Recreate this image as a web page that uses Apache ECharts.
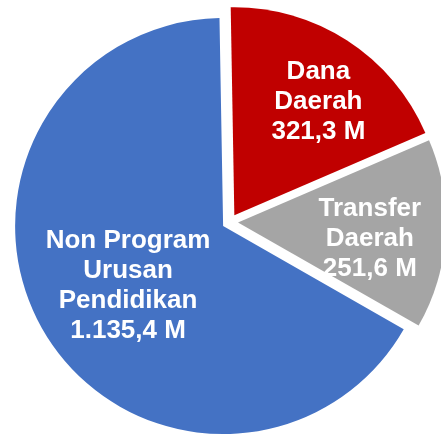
<!DOCTYPE html>
<html>
<head>
<meta charset="utf-8">
<script src="https://cdn.jsdelivr.net/npm/echarts@6/dist/echarts.min.js"></script>
<style>
  html, body { margin: 0; padding: 0; background: #fff; }
  #main { width: 441px; height: 436px; }
</style>
</head>
<body>
<div id="main"></div>
<script>
var names = ['Dana\nDaerah', 'Transfer\nDaerah', 'Non Program\nUrusan\nPendidikan'];
var values = [321.3, 251.6, 1135.4];
var valueLabels = ['321,3 M', '251,6 M', '1.135,4 M'];
var colors = ['#C00000', '#A5A5A5', '#4472C4'];

// label nudges so text sits where the original has it
var labelShift = [[26, -24], [25, 10], [-3, 5]];

var myChart = echarts.init(document.getElementById('main'));

var pieData = values.map(function (v, i) {
    return {
        name: names[i],
        value: v,
        selected: true,
        itemStyle: { color: colors[i] }
    };
});

var option = {
    animation: false,
    series: [{
        type: 'pie',
        center: [230, 222],
        radius: [0, 208],
        startAngle: 91,
        clockwise: true,
        selectedMode: 'multiple',
        selectedOffset: 8,
        data: pieData,
        itemStyle: { borderWidth: 0 },
        select: { itemStyle: { borderWidth: 0 } },
        emphasis: { disabled: true },
        labelLine: { show: false },
        label: {
            show: true,
            position: 'inside',
            color: '#fff',
            fontFamily: "'Liberation Sans', Arial, sans-serif",
            fontWeight: 'bold',
            fontSize: 26,
            lineHeight: 30,
            align: 'center',
            formatter: function (p) {
                return p.name + '\n' + valueLabels[p.dataIndex];
            }
        },
        labelLayout: function (params) {
            var s = labelShift[params.dataIndex];
            return { dx: s[0], dy: s[1] };
        }
    }]
};
myChart.setOption(option);
</script>
</body>
</html>
